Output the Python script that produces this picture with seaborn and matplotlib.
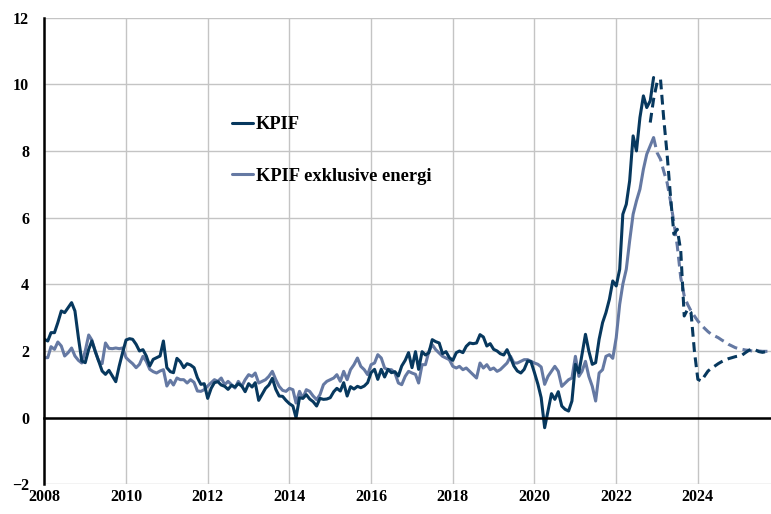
import pandas as pd
import matplotlib
matplotlib.use('Agg')
import matplotlib.pyplot as plt
import matplotlib.dates as mdates
from matplotlib.lines import Line2D
import seaborn as sns

# KPIF, annual percentage change, monthly outcome 2008-01 .. 2022-12
kpif = [
    2.35, 2.30, 2.55, 2.55, 2.85, 3.20, 3.15, 3.30, 3.45, 3.20, 2.40, 1.70,   # 2008
    1.65, 2.05, 2.30, 1.98, 1.70, 1.40, 1.30, 1.42, 1.25, 1.08, 1.55, 1.95,   # 2009
    2.33, 2.37, 2.35, 2.20, 2.00, 2.04, 1.85, 1.55, 1.75, 1.80, 1.85, 2.30,   # 2010
    1.50, 1.38, 1.35, 1.78, 1.68, 1.50, 1.62, 1.58, 1.50, 1.20, 1.00, 1.02,   # 2011
    0.58, 0.88, 1.05, 1.08, 0.98, 0.94, 0.85, 0.97, 0.92, 1.02, 0.95, 0.78,   # 2012
    1.02, 0.92, 1.05, 0.52, 0.70, 0.88, 0.98, 1.18, 0.85, 0.65, 0.64, 0.52,   # 2013
    0.42, 0.35, 0.00, 0.60, 0.58, 0.69, 0.56, 0.48, 0.35, 0.58, 0.55, 0.56,   # 2014
    0.60, 0.78, 0.88, 0.80, 1.05, 0.65, 0.93, 0.86, 0.94, 0.90, 0.95, 1.05,   # 2015
    1.35, 1.45, 1.15, 1.45, 1.22, 1.45, 1.35, 1.38, 1.25, 1.55, 1.72, 1.95,   # 2016
    1.50, 1.98, 1.45, 1.98, 1.88, 1.95, 2.34, 2.28, 2.24, 1.92, 1.98, 1.80,   # 2017
    1.72, 1.95, 2.00, 1.95, 2.14, 2.24, 2.22, 2.24, 2.49, 2.42, 2.15, 2.22,   # 2018
    2.05, 2.00, 1.92, 1.88, 2.04, 1.80, 1.55, 1.40, 1.34, 1.45, 1.70, 1.68,   # 2019
    1.35, 1.00, 0.60, -0.30, 0.20, 0.72, 0.55, 0.78, 0.35, 0.25, 0.20, 0.50,  # 2020
    1.60, 1.35, 1.90, 2.50, 2.00, 1.60, 1.65, 2.35, 2.85, 3.15, 3.55, 4.10,   # 2021
    3.95, 4.45, 6.10, 6.40, 7.10, 8.45, 8.00, 9.00, 9.65, 9.30, 9.50, 10.20,  # 2022
]

# KPIF exklusive energi, monthly outcome 2008-01 .. 2022-12
kpif_ex = [
    1.80, 1.80, 2.13, 2.05, 2.27, 2.15, 1.85, 1.95, 2.09, 1.85, 1.72, 1.64,   # 2008
    2.00, 2.48, 2.33, 1.99, 1.70, 1.62, 2.24, 2.08, 2.07, 2.09, 2.07, 2.09,   # 2009
    1.80, 1.70, 1.62, 1.50, 1.60, 1.84, 1.69, 1.45, 1.38, 1.34, 1.40, 1.44,   # 2010
    0.95, 1.12, 0.98, 1.19, 1.14, 1.14, 1.04, 1.14, 1.06, 0.80, 0.79, 0.84,   # 2011
    0.95, 1.05, 1.14, 1.09, 1.19, 0.99, 1.09, 0.99, 0.89, 1.09, 0.94, 1.14,   # 2012
    1.29, 1.24, 1.34, 1.04, 1.09, 1.14, 1.24, 1.39, 1.14, 0.94, 0.82, 0.79,   # 2013
    0.88, 0.84, 0.44, 0.79, 0.59, 0.84, 0.79, 0.65, 0.54, 0.69, 0.99, 1.09,   # 2014
    1.14, 1.19, 1.29, 1.09, 1.39, 1.14, 1.44, 1.59, 1.79, 1.54, 1.44, 1.29,   # 2015
    1.59, 1.64, 1.89, 1.79, 1.49, 1.44, 1.44, 1.34, 1.04, 0.99, 1.24, 1.39,   # 2016
    1.34, 1.30, 1.04, 1.59, 1.59, 1.99, 2.19, 2.04, 1.94, 1.84, 1.79, 1.74,   # 2017
    1.54, 1.49, 1.54, 1.44, 1.49, 1.39, 1.29, 1.19, 1.64, 1.49, 1.59, 1.44,   # 2018
    1.49, 1.39, 1.44, 1.54, 1.64, 1.84, 1.64, 1.64, 1.69, 1.74, 1.74, 1.69,   # 2019
    1.64, 1.60, 1.52, 1.00, 1.24, 1.39, 1.54, 1.39, 0.94, 1.04, 1.14, 1.19,   # 2020
    1.84, 1.24, 1.39, 1.69, 1.24, 0.94, 0.50, 1.34, 1.44, 1.84, 1.89, 1.78,   # 2021
    2.40, 3.40, 4.00, 4.45, 5.30, 6.10, 6.50, 6.85, 7.45, 7.90, 8.15, 8.40,   # 2022
]

# forecasts (dashed)
kpif_fc_start = '2022-11-01'
kpif_fc = [
    8.85, 9.55,                                                               # 2022
    10.05, 10.15, 9.00, 7.90, 6.65, 5.50, 5.65, 5.00, 3.05, 3.25, 3.15, 2.00, # 2023
    1.15, 1.10, 1.25, 1.40, 1.48, 1.55, 1.62, 1.68, 1.73, 1.77, 1.80, 1.83,   # 2024
    1.85, 1.88, 1.95, 2.02, 2.06, 2.03, 1.98, 1.96, 1.98, 2.00,               # 2025
]
kpif_ex_fc_start = '2022-12-01'
kpif_ex_fc = [
    8.40,                                                                     # 2022
    7.95, 7.75, 7.40, 7.05, 6.50, 5.85, 5.15, 4.20, 3.65, 3.40, 3.20, 3.05,   # 2023
    2.90, 2.78, 2.68, 2.58, 2.50, 2.45, 2.40, 2.33, 2.27, 2.20, 2.15, 2.10,   # 2024
    2.07, 2.05, 2.03, 2.02, 2.00, 2.00, 2.00, 1.99, 1.99, 1.99,               # 2025
]

series_names = ['KPIF', 'KPIF exklusive energi']
year_ticks = list(range(2008, 2025, 2))
y_ticks = list(range(-2, 13, 2))

dark = '#07385e'
light = '#6579a3'


def make_frame(values, start, name, kind):
    return pd.DataFrame({
        'date': pd.date_range(start, periods=len(values), freq='MS'),
        'value': values,
        'serie': name,
        'typ': kind,
    })


df = pd.concat([
    make_frame(kpif, '2008-01-01', series_names[0], 'utfall'),
    make_frame(kpif_ex, '2008-01-01', series_names[1], 'utfall'),
    make_frame(kpif_fc, kpif_fc_start, series_names[0], 'prognos'),
    make_frame(kpif_ex_fc, kpif_ex_fc_start, series_names[1], 'prognos'),
], ignore_index=True)

sns.set_style('white')
plt.rcParams['font.family'] = ['Liberation Serif', 'DejaVu Serif']
plt.rcParams['font.weight'] = 'bold'
plt.rcParams['text.color'] = 'black'

fig = plt.figure(figsize=(7.71, 5.14), dpi=100)
ax = fig.add_axes([44.3 / 771, 29.6 / 514, (771 - 44.3) / 771, (484.4 - 17.5) / 514])

sns.lineplot(data=df, x='date', y='value', hue='serie', style='typ',
             palette={series_names[0]: dark, series_names[1]: light},
             dashes={'utfall': '', 'prognos': (3.2, 1.8)},
             hue_order=series_names[::-1], estimator=None,
             linewidth=2.2, legend=False, ax=ax)

ax.set_ylim(-2, 12)
ax.set_yticks(y_ticks)
ax.set_xlim(pd.Timestamp('2008-01-01'), pd.Timestamp('2025-10-16'))
ax.set_xticks([pd.Timestamp(f'{y}-01-01') for y in year_ticks])
ax.xaxis.set_major_formatter(mdates.DateFormatter('%Y'))
ax.set_xlabel('')
ax.set_ylabel('')

ax.grid(True, color='#c4c4c4', linewidth=1.0)
ax.set_axisbelow(True)

for side in ['top', 'right']:
    ax.spines[side].set_visible(False)
ax.spines['left'].set_color('black')
ax.spines['left'].set_linewidth(1.8)
ax.spines['bottom'].set_position(('data', 0))
ax.spines['bottom'].set_color('black')
ax.spines['bottom'].set_linewidth(1.8)

ax.tick_params(axis='x', direction='in', length=3, width=1.5, color='black',
               pad=51.5, labelsize=11.5, labelcolor='black')
ax.tick_params(axis='y', direction='in', length=3, width=1.5, color='black',
               pad=11, labelsize=11.5, labelcolor='black')

handles = [Line2D([], [], color=dark, lw=2.2), Line2D([], [], color=light, lw=2.2)]
leg = ax.legend(handles, series_names, frameon=False, loc='upper left',
                bbox_to_anchor=(231.5 / 771, 1 - 116 / 514), bbox_transform=fig.transFigure,
                prop={'family': 'Liberation Serif', 'weight': 'bold', 'size': 13.3},
                handlelength=1.17, handletextpad=0.15, labelspacing=1.87,
                borderpad=0, borderaxespad=0)
for t in leg.get_texts():
    t.set_color('black')

fig.savefig('out.png', dpi=100)
